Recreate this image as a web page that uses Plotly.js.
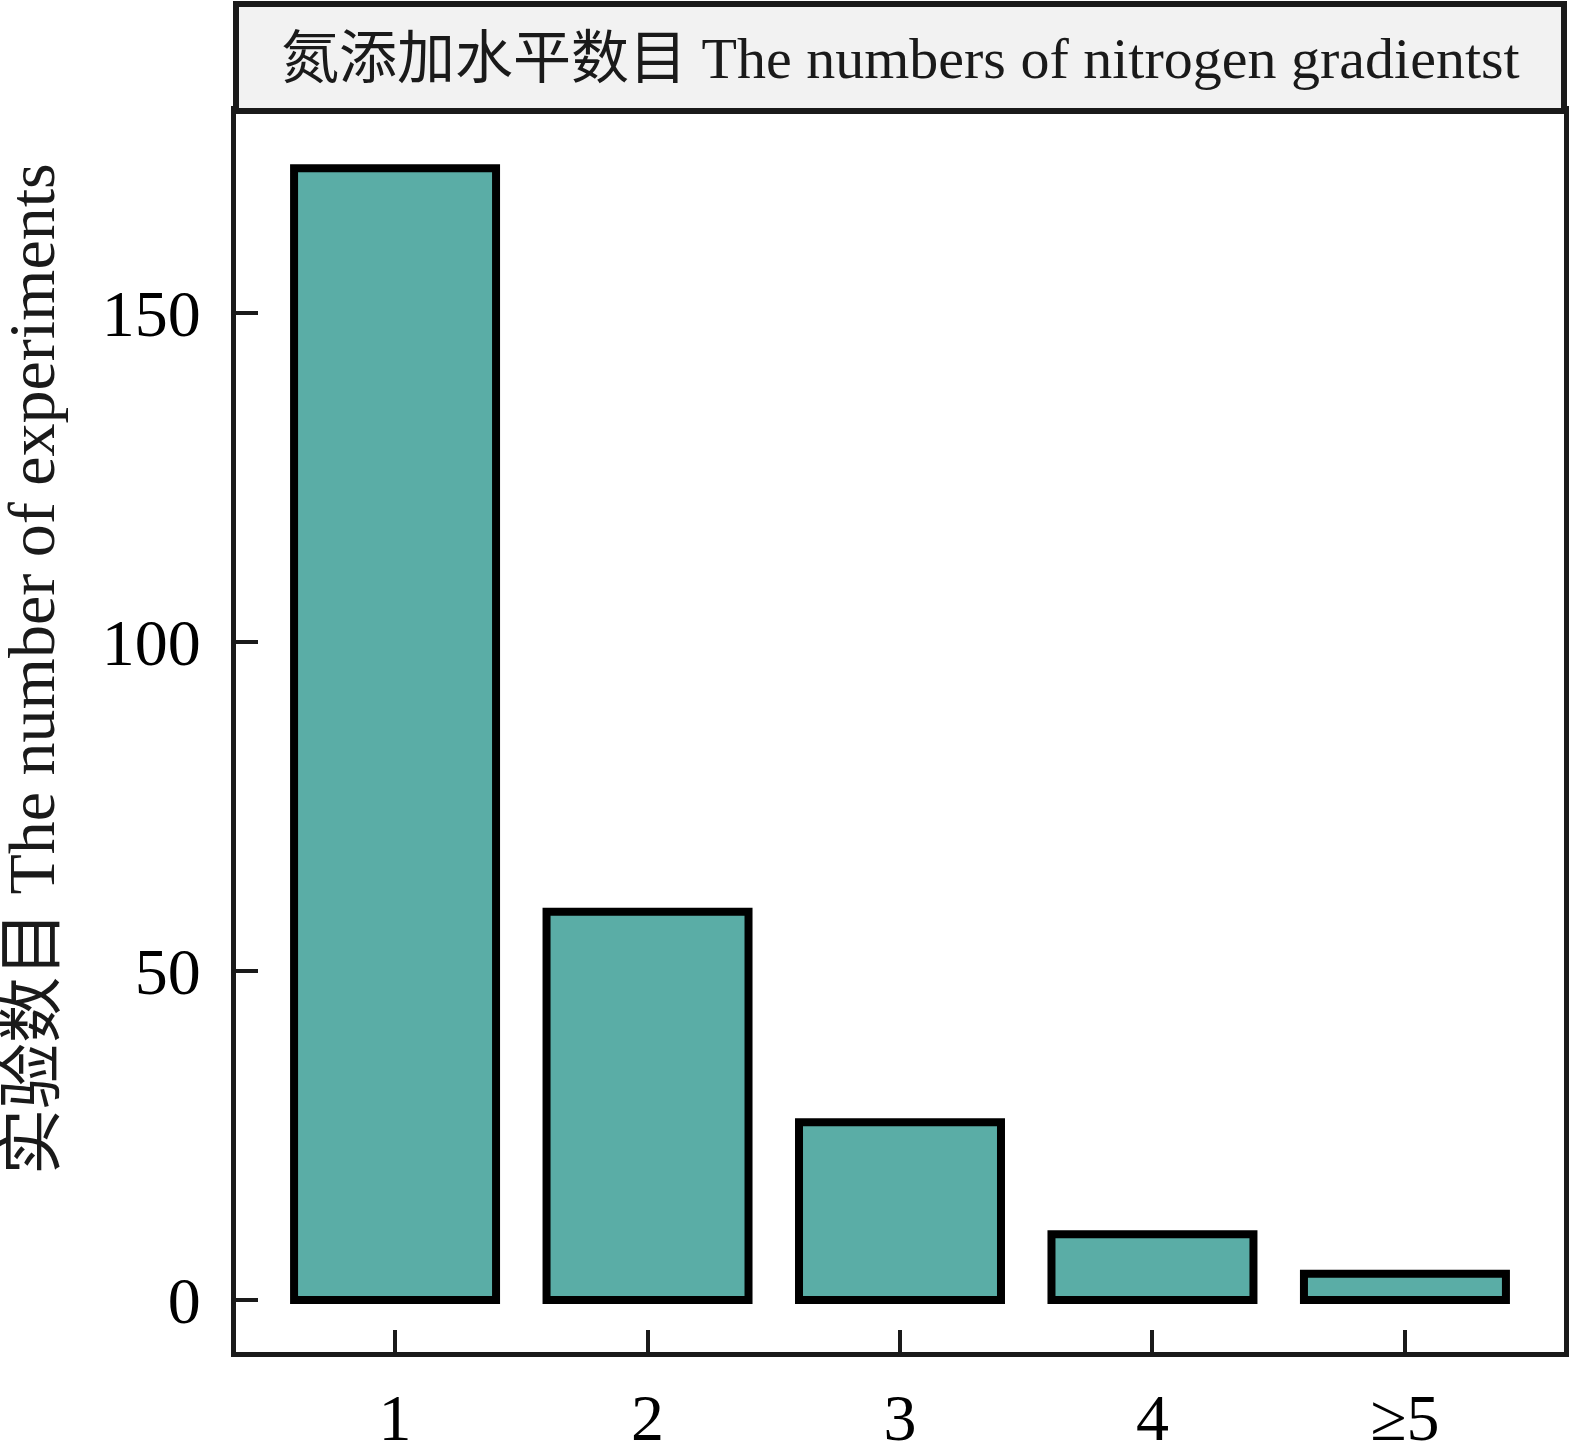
<!DOCTYPE html>
<html>
<head>
<meta charset="utf-8">
<script src="https://cdn.plot.ly/plotly-3.0.1.min.js"></script>
<style>html,body{margin:0;padding:0;background:#fff;}</style>
</head>
<body>
<div id="chart" style="width:1574px;height:1443px;"></div>
<script>
const categories = ["1", "2", "3", "4", "≥5"];
const counts = [172, 59, 27, 10, 4];
const yTickVals = [0, 50, 100, 150];
const yTickText = ["0", "50", "100", "150"];
const stripTitle = "氮添加水平数目 The numbers of nitrogen gradientst";
const yTitle = "实验数目 The number of experiments";

const FONT = "'Liberation Serif', 'Times New Roman', 'Noto Sans CJK SC', serif";

const trace = {
  type: "bar",
  x: categories,
  y: counts,
  width: 0.8,
  marker: { color: "#5aada6", line: { color: "#000000", width: 8 } },
  hoverinfo: "x+y"
};

const plotH = 1443 - 111 - 91;
const layout = {
  width: 1574,
  height: 1443,
  margin: { l: 236, r: 10, t: 111, b: 91 },
  paper_bgcolor: "#ffffff",
  plot_bgcolor: "#ffffff",
  showlegend: false,
  font: { family: FONT, color: "#000000" },
  xaxis: {
    type: "category",
    range: [-0.63, 4.63],
    showgrid: false,
    zeroline: false,
    showline: true,
    mirror: true,
    linecolor: "#1a1a1a",
    linewidth: 5,
    ticks: "inside",
    ticklen: 22,
    tickwidth: 4,
    tickcolor: "#1a1a1a",
    tickfont: { family: FONT, size: 66, color: "#000000" },
    ticklabelstandoff: 4
  },
  yaxis: {
    range: [-7.9, 180.7],
    tickvals: yTickVals,
    ticktext: yTickText,
    showgrid: false,
    zeroline: false,
    showline: true,
    mirror: true,
    linecolor: "#1a1a1a",
    linewidth: 5,
    ticks: "inside",
    ticklen: 22,
    tickwidth: 4,
    tickcolor: "#1a1a1a",
    tickfont: { family: FONT, size: 66, color: "#000000" },
    ticklabelstandoff: 17
  },
  shapes: [
    {
      type: "rect", xref: "paper", yref: "paper",
      x0: 0, x1: 1, y0: 1, y1: 1 + 107 / plotH,
      fillcolor: "#f2f2f2",
      line: { color: "#1a1a1a", width: 6 },
      layer: "above"
    }
  ],
  annotations: [
    {
      xref: "paper", yref: "paper",
      x: 0.5, y: 1 + 53 / plotH,
      xanchor: "center", yanchor: "middle",
      text: stripTitle,
      showarrow: false,
      font: { family: FONT, size: 58, color: "#1a1a1a" }
    },
    {
      xref: "paper", yref: "paper",
      x: 0, xshift: -205,
      y: 1 - (669 - 111) / plotH,
      xanchor: "center", yanchor: "middle",
      textangle: -90,
      text: yTitle,
      showarrow: false,
      font: { family: FONT, size: 66, color: "#1a1a1a" }
    }
  ]
};

Plotly.newPlot("chart", [trace], layout, { displayModeBar: false, staticPlot: true });
</script>
</body>
</html>
